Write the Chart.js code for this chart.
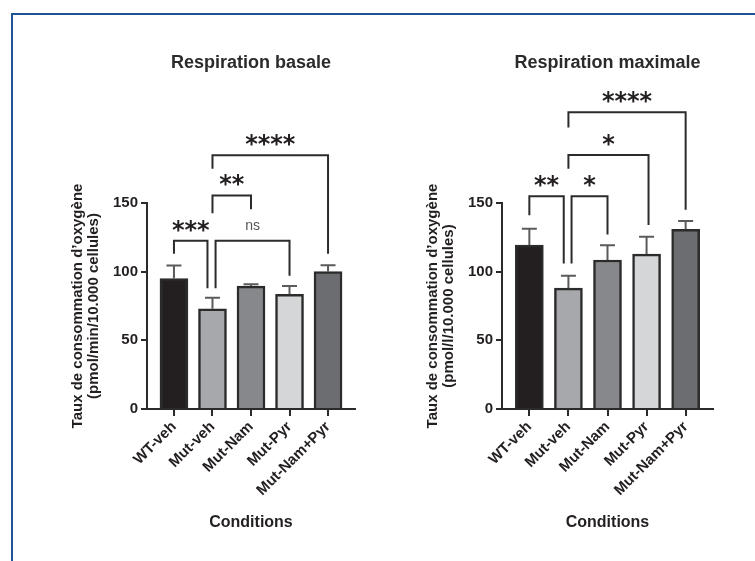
<!DOCTYPE html>
<html>
<head>
<meta charset="utf-8">
<script src="https://cdn.jsdelivr.net/npm/chart.js@4"></script>
<style>
    body { margin: 0; background: #fff; overflow: hidden; }
    #frame { position: absolute; left: 11px; top: 13px; width: 760px; height: 560px;
             border-left: 2px solid #1f5593; border-top: 2px solid #1f5593; }
    .box { position: absolute; top: 0; height: 561px; }
</style>
</head>
<body>
<div id="frame"></div>
<div class="box" style="left:0;width:377px"><canvas id="basale"></canvas></div>
<div class="box" style="left:377px;width:378px"><canvas id="maximale"></canvas></div>
<script>
const conditions = ["WT-veh", "Mut-veh", "Mut-Nam", "Mut-Pyr", "Mut-Nam+Pyr"];
const barColors = ["#231f20", "#a6a8ab", "#86888b", "#d5d6d8", "#6c6d70"];
const yTicks = [0, 50, 100, 150];

// respiration basale
const basaleMeans = [95, 73, 89.5, 83.5, 100];
const basaleSem = [9.5, 8, 1.3, 6, 4.6];
// [from, to, top, left leg end, right leg end, label]
const basaleBrackets = [
    [0, 0.87, 122.5, 113, 88, "***"],
    [1.08, 3, 122.5, 88, 97, "ns"],
    [1, 2, 155.5, 142.5, 145.5, "**"],
    [1, 4, 184.8, 175, 113, "****"]
];

// respiration maximale
const maxiMeans = [119.3, 88, 108.5, 112.8, 130.9];
const maxiSem = [12, 9, 10.8, 12.6, 6];
const maxiBrackets = [
    [0, 0.88, 155, 141, 106, "**"],
    [1.08, 2, 155, 106, 127, "*"],
    [1, 3.05, 185, 175, 134, "*"],
    [1, 4, 216, 205, 145, "****"]
];

Chart.defaults.font.family = "'Liberation Sans', Arial, sans-serif";
Chart.defaults.color = "#231f20";

// error bars (upper only) + significance brackets
const annotate = {
    id: "annotate",
    afterDatasetsDraw(chart, args, opts) {
        const { ctx } = chart;
        const x = chart.scales.x, y = chart.scales.y;
        ctx.save();
        ctx.lineWidth = 2;
        ctx.strokeStyle = "#5b5b5d";
        opts.means.forEach((m, i) => {
            const px = x.getPixelForValue(i);
            const y0 = y.getPixelForValue(m);
            const y1 = y.getPixelForValue(m + opts.sem[i]);
            ctx.beginPath();
            ctx.moveTo(px, y0);
            ctx.lineTo(px, y1);
            ctx.moveTo(px - 7.5, y1);
            ctx.lineTo(px + 7.5, y1);
            ctx.stroke();
        });

        ctx.strokeStyle = "#2b2b2b";
        ctx.lineJoin = "miter";
        opts.brackets.forEach(([a, b, top, endA, endB, label]) => {
            const xa = x.getPixelForValue(a), xb = x.getPixelForValue(b);
            const yt = y.getPixelForValue(top);
            ctx.beginPath();
            ctx.moveTo(xa, y.getPixelForValue(endA));
            ctx.lineTo(xa, yt);
            ctx.lineTo(xb, yt);
            ctx.lineTo(xb, y.getPixelForValue(endB));
            ctx.stroke();

            const ns = label === "ns";
            ctx.font = ns ? "14px 'Liberation Sans', Arial, sans-serif" : "bold 24px 'DejaVu Sans', sans-serif";
            ctx.fillStyle = ns ? "#555" : "#231f20";
            ctx.textAlign = "center";
            ctx.textBaseline = "alphabetic";
            const tm = ctx.measureText(label);
            const cy = yt - 15;
            ctx.fillText(label, (xa + xb) / 2, cy + (tm.actualBoundingBoxAscent - tm.actualBoundingBoxDescent) / 2);
        });
        ctx.restore();
    }
};

const makeChart = (id, title, yTitle, means, sem, brackets, pad) => {
    const ctx = document.getElementById(id).getContext("2d");
    return new Chart(ctx, {
        type: "bar",
        data: {
            datasets: [{
                data: means.map((v, i) => ({ x: i, y: v })),
                backgroundColor: barColors,
                borderColor: "#2b2b2b",
                borderWidth: 2.5,
                borderSkipped: "bottom",
                barThickness: 28
            }]
        },
        options: {
            responsive: true,
            maintainAspectRatio: false,
            animation: false,
            layout: { padding: pad },
            plugins: {
                legend: { display: false },
                tooltip: { enabled: false },
                title: {
                    display: true,
                    text: title,
                    fullSize: false,
                    color: "#2b2b2b",
                    font: { size: 18, weight: "bold" },
                    padding: { top: 52, bottom: 203 - 52 - 21.6 }
                },
                annotate: { means, sem, brackets }
            },
            scales: {
                x: {
                    type: "linear",
                    min: -0.7,
                    max: 4.7,
                    offset: false,
                    afterBuildTicks: s => { s.ticks = conditions.map((c, i) => ({ value: i })); },
                    afterFit: s => { s.height = 561 - pad.bottom - 409; },
                    ticks: {
                        callback: v => conditions[v],
                        autoSkip: false,
                        minRotation: 45,
                        maxRotation: 45,
                        padding: 2,
                        font: { size: 15, weight: "bold" }
                    },
                    grid: { drawOnChartArea: false, drawTicks: true, offset: false, tickLength: 7, color: "#2b2b2b", lineWidth: 2 },
                    border: { color: "#2b2b2b", width: 2 },
                    title: {
                        display: true,
                        text: "Conditions",
                        font: { size: 16, weight: "bold" },
                        padding: { top: 0, bottom: 9 }
                    }
                },
                y: {
                    min: 0,
                    max: 150,
                    afterBuildTicks: s => { s.ticks = yTicks.map(v => ({ value: v })); },
                    afterFit: s => { s.width = 87; },
                    ticks: { padding: 3, font: { size: 15, weight: "bold" } },
                    grid: { drawOnChartArea: false, drawTicks: true, tickLength: 6, color: "#2b2b2b", lineWidth: 2 },
                    border: { color: "#2b2b2b", width: 2 },
                    title: {
                        display: true,
                        text: yTitle,
                        font: { size: 15, weight: "bold", lineHeight: 1.05 },
                        padding: { top: 10, bottom: 0 }
                    }
                }
            }
        },
        plugins: [annotate]
    });
};

makeChart("basale", "Respiration basale",
    ["Taux de consommation d\u2019oxygène", "(pmol/min/10.000 cellules)"],
    basaleMeans, basaleSem, basaleBrackets,
    { left: 60, right: 22, top: 0, bottom: 20 });

makeChart("maximale", "Respiration maximale",
    ["Taux de consommation d\u2019oxygène", "(pmol/l/10.000 cellules)"],
    maxiMeans, maxiSem, maxiBrackets,
    { left: 38, right: 42, top: 0, bottom: 20 });
</script>
</body>
</html>
